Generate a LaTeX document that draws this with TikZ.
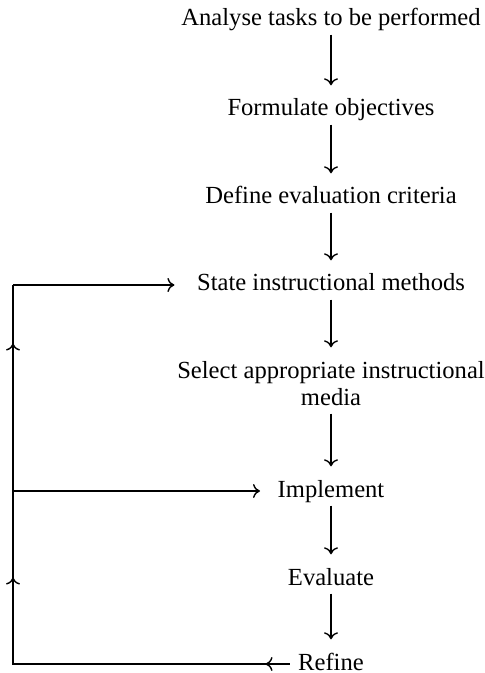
\documentclass[tikz,border=0pt]{standalone}
\usepackage{fontspec}
\setmainfont{Liberation Serif}
\usepackage{tikz}
\usetikzlibrary{arrows.meta,decorations.markings}

\begin{document}
\begin{tikzpicture}[x=0.5pt, y=-0.5pt, line width=0.7pt,
		>={To[length=3.5pt, width=7pt]},
		stage/.style={inner sep=0pt, text height=9pt, text depth=3pt, align=center, anchor=base,
			font=\fontsize{12.3pt}{13.5pt}\selectfont},
		flow/.style={->, shorten <=1pt, shorten >=6pt}]
			\useasboundingbox (0, 0) rectangle (485, 673);

			\node (analyse) at (331, 26) [stage] {Analyse tasks to be performed};
			\node (formulate) at (331, 116) [stage] {Formulate objectives};
			\node (define) at (331, 204) [stage] {Define evaluation criteria};
			\node (state) at (331, 291) [stage] {State instructional methods};
			\node (select) at (331, 405) [stage, text height=22.5pt] {Select appropriate instructional\\media};
			\node (implement) at (331, 497) [stage] {Implement};
			\node (evaluate) at (331, 585) [stage] {Evaluate};
			\node (refine) at (331, 670) [stage] {Refine};
			\coordinate (lft) at (13, 0);

			\foreach \a/\b in {analyse/formulate, formulate/define, define/state, state/select,
				select/implement, implement/evaluate, evaluate/refine}
				\draw [flow] (\a) -- (\b);

			\draw [postaction={decorate}, decoration={markings,
					mark=at position 12pt with {\arrow{>}},
					mark=at position 181.5pt with {\arrow{>}},
					mark=at position 298.5pt with {\arrow{>}}}]
				([xshift=-4pt]refine.west) -- (refine.west -| lft) -- (state.west -| lft);
			\draw [->, shorten >=11pt] (state.west -| lft) -- (state.west);
			\draw [->, shorten >=8.5pt] (implement.west -| lft) -- (implement.west);
		\end{tikzpicture}
\end{document}
